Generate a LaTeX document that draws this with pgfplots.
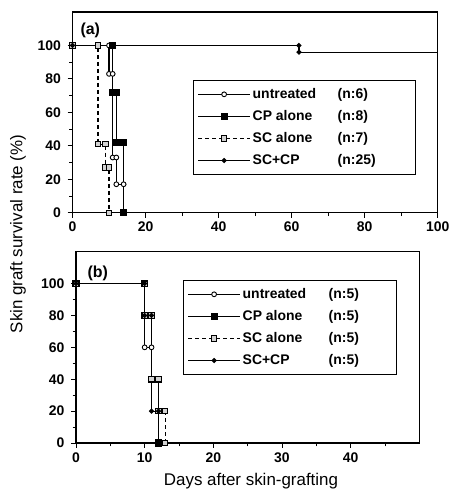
\documentclass[border=0pt]{standalone}
\usepackage{fontspec}
\setmainfont{Liberation Sans}
\usepackage{pgfplots}
\pgfplotsset{compat=1.18}
\pgfplotsset{
  panel/.style={
    scale only axis,
    ymin=0, ymax=120,
    ytick={0,20,...,100}, minor ytick={10,30,...,90},
    tick align=outside, tick pos=left,
    major tick length=5bp, minor tick length=3.5bp,
    axis line style={line width=1.1bp},
    every tick/.style={black, line width=0.9bp},
    ticklabel style={font=\bfseries\fontsize{14}{16}\selectfont},
    xticklabel style={yshift=-1bp},
    /pgf/number format/assume math mode=true,
    yticklabel style={xshift=-3bp},
    legend cell align=left,
    legend image code/.code={
      \draw[#1,mark=none] (0bp,0bp) -- (52bp,0bp);
      \draw[#1] plot coordinates {(26bp,0bp)};
    },
    legend style={draw=black, line width=1bp, anchor=north west,
      font=\bfseries\fontsize{14}{16}\selectfont,
      row sep=6.5bp, inner xsep=4bp, inner ysep=6bp},
  },
  sUT/.style={black, line width=1.2bp, mark=*, mark size=2.4bp, mark options={solid, fill=white, line width=0.9bp}},
  sCP/.style={black, line width=1.2bp, mark=square*, mark size=3bp, mark options={solid, fill=black}},
  sSC/.style={black, line width=1.2bp, dash pattern=on 4bp off 3bp, mark=square*, mark size=2.6bp, mark options={solid, fill=gray!35, line width=0.9bp}},
  sSCCP/.style={black, line width=1.2bp, mark=*, mark size=1.9bp, mark options={solid, fill=black}},
}
\begin{document}
\begin{tikzpicture}[x=1bp,y=1bp]
\useasboundingbox (0,0) rectangle (456,490);

% ---------- panel (a) ----------
\begin{axis}[panel,
  at={(72.5bp,277.3bp)}, anchor=south west,
  width=365.2bp, height=200.7bp,
  xmin=0, xmax=100,
  xtick={0,20,...,100}, minor xtick={10,30,...,90},
  legend style={at={(0.330,0.661)}},
]
\addplot[sUT] coordinates {(0,100) (10,100) (10,83) (11,83) (11,33) (12,33) (12,17) (14,17) (14,0)};
\addlegendentry{\makebox[85bp][l]{untreated}\makebox[72bp][l]{(n:6)}}
\addplot[sCP] coordinates {(0,100) (11,100) (11,72) (12,72) (12,42) (14,42) (14,0)};
\addlegendentry{\makebox[85bp][l]{CP alone}\makebox[72bp][l]{(n:8)}}
\addplot[sSC] coordinates {(0,100) (7,100) (7,41) (9,41) (9,27) (10,27) (10,0)};
\addlegendentry{\makebox[85bp][l]{SC alone}\makebox[72bp][l]{(n:7)}}
\addplot[sSCCP, mark indices={1,2,3}] coordinates {(0,100) (62,100) (62,96) (100,96)};
\addlegendentry{\makebox[85bp][l]{SC+CP}\makebox[72bp][l]{(n:25)}}
\end{axis}
\node[font=\bfseries\fontsize{16}{18}\selectfont] at (90.3,460) {(a)};

% ---------- panel (b) ----------
\begin{axis}[panel,
  at={(76bp,47bp)}, anchor=south west,
  width=343.3bp, height=191.3bp,
  xmin=0, xmax=50,
  xtick={0,10,...,40}, minor xtick={5,15,...,45},
  legend style={at={(0.3117,0.852)}},
]
\addplot[sUT] coordinates {(0,100) (10,100) (10,60) (11,60) (11,40) (12,40) (12,0)};
\addlegendentry{\makebox[86bp][l]{untreated}\makebox[62bp][l]{(n:5)}}
\addplot[sCP] coordinates {(0,100) (10,100) (10,80) (11,80) (11,40) (12,40) (12,0)};
\addlegendentry{\makebox[86bp][l]{CP alone}\makebox[62bp][l]{(n:5)}}
\addplot[sSC] coordinates {(0,100) (10,100) (10,80) (11,80) (11,40) (12,40) (12,20) (13,20) (13,0)};
\addlegendentry{\makebox[86bp][l]{SC alone}\makebox[62bp][l]{(n:5)}}
\addplot[sSCCP] coordinates {(0,100) (10,100) (10,80) (11,80) (11,20) (12,20) (12,0)};
\addlegendentry{\makebox[86bp][l]{SC+CP}\makebox[62bp][l]{(n:5)}}
\end{axis}
\node[font=\bfseries\fontsize{16}{18}\selectfont] at (97.8,217) {(b)};

% ---------- shared axis labels ----------
\node[rotate=90, font=\fontsize{17}{19}\selectfont] at (18,256) {Skin graft survival rate (\%)};
\node[anchor=base, font=\fontsize{17}{19}\selectfont] at (251,4) {Days after skin-grafting};
\end{tikzpicture}
\end{document}
